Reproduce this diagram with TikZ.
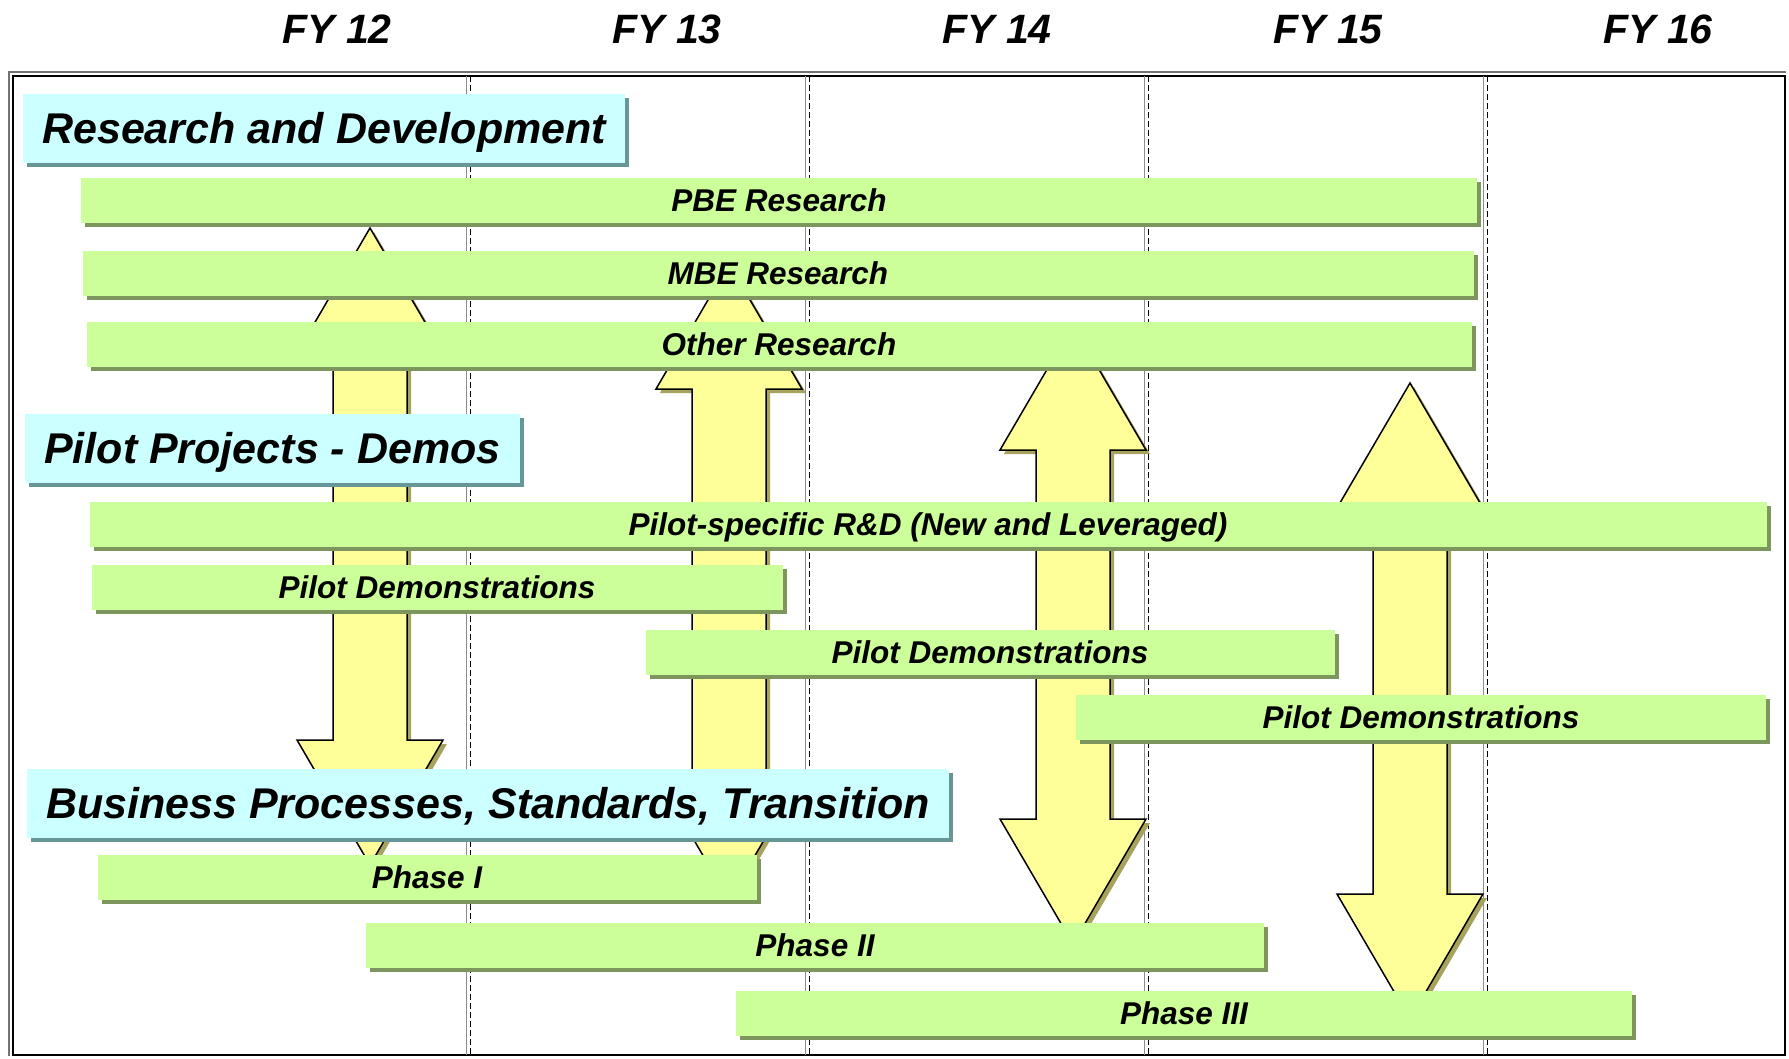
\documentclass[tikz,border=0pt]{standalone}
\usepackage{fontspec}
\setmainfont{Liberation Sans}
\definecolor{barfill}{RGB}{204,255,153}
\definecolor{barshade}{RGB}{124,150,94}
\definecolor{headfill}{RGB}{204,255,255}
\definecolor{headshade}{RGB}{102,150,150}
\definecolor{arrowfill}{RGB}{255,255,153}
\definecolor{arrowshade}{RGB}{168,163,92}
\usetikzlibrary{arrows.meta,positioning,shadows,calc}

\tikzset{
  bar/.style={fill=barfill, inner sep=0pt, minimum height=45pt,
    text height=22pt, text depth=0pt,
    font=\fontsize{31.5}{36}\selectfont\bfseries\itshape,
    drop shadow={shadow xshift=4pt, shadow yshift=-4pt, fill=barshade, opacity=1}},
  heading/.style={fill=headfill, anchor=west, inner xsep=19pt, inner ysep=0pt,
    minimum height=69pt, text height=30pt, text depth=0pt,
    font=\fontsize{43}{50}\selectfont\bfseries\itshape,
    drop shadow={shadow xshift=4pt, shadow yshift=-4pt, fill=headshade, opacity=1}},
  fylabel/.style={text height=30pt, text depth=0pt,
    font=\fontsize{41}{48}\selectfont\bfseries\itshape},
  bigarrow/.style={fill=arrowfill, draw=black, line width=1.5pt, line join=miter,
    preaction={fill=arrowshade, transform canvas={xshift=4pt, yshift=-4pt}}}
}
% double block arrow: centre x, top tip y, bottom tip y
\newcommand{\dblarrow}[3]{%
  \path[bigarrow] (#1,#2) -- ({#1+73},{#2+125}) -- ({#1+37},{#2+125})
    -- ({#1+37},{#3-125}) -- ({#1+73},{#3-125}) -- (#1,#3)
    -- ({#1-73},{#3-125}) -- ({#1-37},{#3-125}) -- ({#1-37},{#2+125})
    -- ({#1-73},{#2+125}) -- cycle;}

\begin{document}
\begin{tikzpicture}[x=1pt, y=-1pt]
  \useasboundingbox (0,0) rectangle (1789,1058);

  % Year labels
  \node[fylabel] (fy12) at (337,28) {FY 12};
  \node[fylabel] (fy13) at (667,28) {FY 13};
  \node[fylabel] (fy14) at (997,28) {FY 14};
  \node[fylabel] (fy15) at (1328,28) {FY 15};
  \node[fylabel] (fy16) at (1658,28) {FY 16};

  % Frame
  \draw[black!55, line width=2pt] (9,1056) -- (9,72) -- (1786,72);
  \draw[black, line width=2pt] (13,1055) rectangle (1785,76);

  % Year dividers
  \draw[black!45, line width=1pt] (466,76) -- (466,1055);
  \draw[black, line width=1pt, dash pattern=on 6pt off 3pt] (470,76) -- (470,1055);
  \draw[black!45, line width=1pt] (805,76) -- (805,1055);
  \draw[black, line width=1pt, dash pattern=on 6pt off 3pt] (809,76) -- (809,1055);
  \draw[black!45, line width=1pt] (1144,76) -- (1144,1055);
  \draw[black, line width=1pt, dash pattern=on 6pt off 3pt] (1148,76) -- (1148,1055);
  \draw[black!45, line width=1pt] (1483,76) -- (1483,1055);
  \draw[black, line width=1pt, dash pattern=on 6pt off 3pt] (1487,76) -- (1487,1055);

  % Exchange arrows
  \dblarrow{370}{228}{865}
  \dblarrow{729}{264}{900}
  \dblarrow{1073}{325}{944}
  \dblarrow{1410}{383}{1019}

  % Research and Development
  \node[heading] (rd) at (23,128) {Research and Development};
  \node[bar, minimum width=1396pt] (pbe) at (779,200.5) {PBE Research};
  \node[bar, minimum width=1391pt] (mbe) at (778,273.5) {MBE Research};
  \node[bar, minimum width=1385pt] (other) at (779,344.5) {Other Research};

  % Pilot Projects
  \node[heading] (pilot) at (25,448) {Pilot Projects - Demos};
  \node[bar, minimum width=1677pt] (pilotrd) at (928,524) {Pilot-specific R\&D (New and Leveraged)};
  \node[bar, minimum width=691pt] (demoa) at (437,587.5) {Pilot Demonstrations};
  \node[bar, minimum width=689pt] (demob) at (990,652.5) {Pilot Demonstrations};
  \node[bar, minimum width=690pt] (democ) at (1421,717.5) {Pilot Demonstrations};

  % Business Processes
  \node[heading] (bp) at (27,803) {Business Processes, Standards, Transition};
  \node[bar, minimum width=659pt] (phasea) at (427,877.5) {Phase I};
  \node[bar, minimum width=898pt] (phaseb) at (815,945) {Phase II};
  \node[bar, minimum width=896pt] (phasec) at (1184,1013) {Phase III};
\end{tikzpicture}
\end{document}
